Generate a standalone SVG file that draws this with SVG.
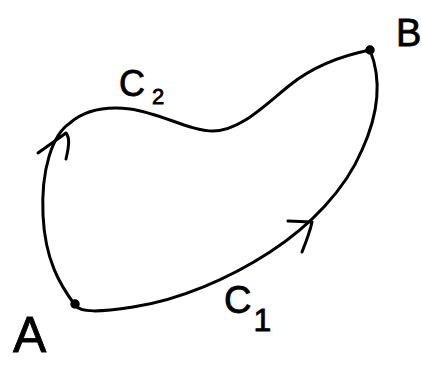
<svg xmlns="http://www.w3.org/2000/svg" width="422" height="365" viewBox="0 0 422 365">
<style>
.curve{fill:none;stroke:#000;stroke-width:3;stroke-linecap:round;stroke-linejoin:round}
.dot{fill:#000;stroke:#000;stroke-width:1.5}
.lbl{font-family:"Liberation Sans",Arial,sans-serif;fill:#000;stroke:#000;stroke-width:0.8}
</style>
<rect width="422" height="365" fill="#fff"/>
<g id="connectors">
  <g id="C1">
    <path class="curve" d="M75,305 C80,313 100,312 133,307 C180,300 230,278 270,252 C310,226 345,190 362,150 C378,115 382,80 370,50"/>
    <path class="curve" d="M288,221 L312,222 C310,232 306,242 302,252"/>
    <text class="lbl" x="224" y="313" font-size="38">C<tspan font-size="32" dx="2" dy="18">1</tspan></text>
  </g>
  <g id="C2">
    <path class="curve" d="M75,305 C60,285 45,260 43,215 C41,170 52,135 70,123 C85,110 105,106 130,109 C160,113 190,131 213,131 C240,131 265,105 290,85 C315,65 345,55 370,50"/>
    <path class="curve" d="M38,153 L66,133 C70,138 69,146 66,159"/>
    <text class="lbl" x="119" y="96" font-size="36">C<tspan font-size="22" dx="7" dy="8">2</tspan></text>
  </g>
</g>
<g id="A">
  <circle class="dot" cx="75" cy="304" r="4"/>
  <text class="lbl" x="13" y="352" font-size="50">A</text>
</g>
<g id="B">
  <circle class="dot" cx="370" cy="50" r="4"/>
  <text class="lbl" x="396" y="46" font-size="38">B</text>
</g>
</svg>
